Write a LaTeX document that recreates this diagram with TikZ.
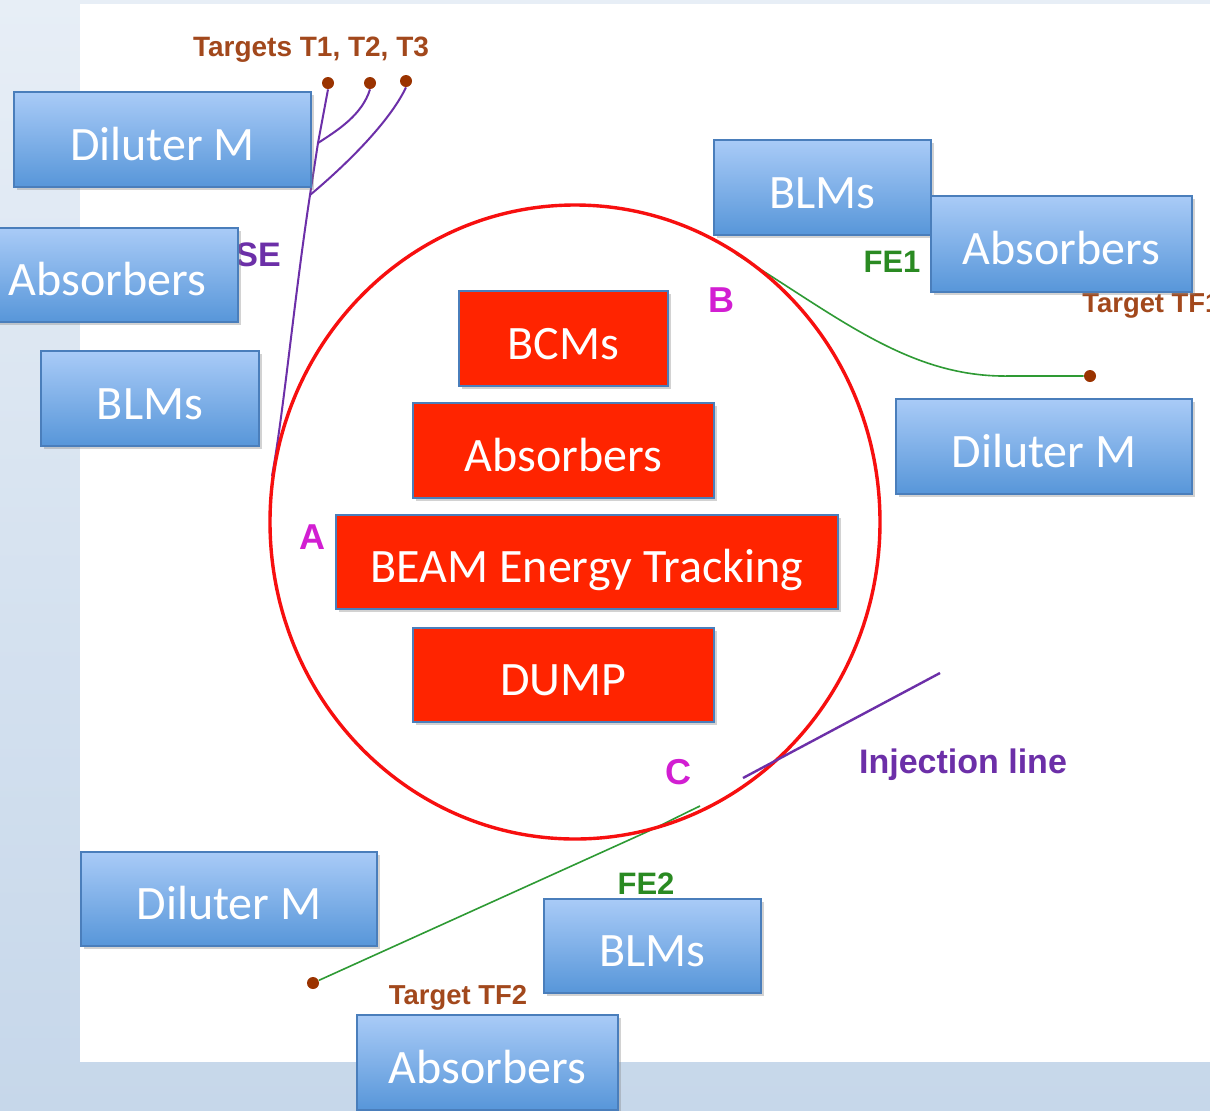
\documentclass[tikz,border=0pt]{standalone}
\usepackage{fontspec}
\newfontfamily\carlito{Carlito}
\newfontfamily\lsans{Liberation Sans}
\usetikzlibrary{shadows}
\definecolor{boxborder}{HTML}{4A7EBB}
\definecolor{boxtop}{HTML}{A9CBF7}
\definecolor{boxbot}{HTML}{5796D9}
\definecolor{redfill}{HTML}{FF2400}
\definecolor{ringred}{HTML}{F70F0F}
\definecolor{brownlbl}{HTML}{A2481C}
\definecolor{dotbrown}{HTML}{9A3300}
\definecolor{purp}{HTML}{6C2FA8}
\definecolor{greenl}{HTML}{2E9A34}
\definecolor{greent}{HTML}{2A8A22}
\definecolor{magl}{HTML}{D21ED2}
\definecolor{bgtop}{HTML}{E7EEF6}
\definecolor{bgbot}{HTML}{C6D7EA}
\tikzset{
  bigtext/.style={font=\carlito\fontsize{24}{28}\selectfont, text height=20.5pt, text depth=0pt},
  bluebox/.style={rectangle, draw=boxborder, line width=0.6pt, top color=boxtop, bottom color=boxbot,
    text=white, bigtext, inner sep=0pt,
    drop shadow={opacity=0.35, shadow xshift=1.5pt, shadow yshift=-1.5pt}},
  redbox/.style={rectangle, draw=boxborder, line width=0.6pt, fill=redfill,
    text=white, bigtext, inner sep=0pt,
    drop shadow={opacity=0.35, shadow xshift=1.5pt, shadow yshift=-1.5pt}},
  lbl/.style={font=\lsans\bfseries\fontsize{#1}{#1}\selectfont, inner sep=0pt},
  tdot/.style={circle, fill=dotbrown, inner sep=0pt, minimum size=6pt},
  purpline/.style={draw=purp, line width=1pt},
  greenline/.style={draw=greenl, line width=0.8pt},
}
\begin{document}
\begin{tikzpicture}[x=0.5pt, y=-0.5pt]
\useasboundingbox (0,0) rectangle (1210,1110);
\clip (0,0) rectangle (1210,1110);
% background
\shade[top color=bgtop, bottom color=bgbot] (0,0) rectangle (1210,1110);
\fill[white] (80,4) rectangle (1210,1062);

% target dots
\node[tdot] (t1) at (328,83) {};
\node[tdot] (t2) at (370,83) {};
\node[tdot] (t3) at (406,81) {};
\node[tdot] (tf1) at (1090,376) {};
\node[tdot] (tf2) at (313,983) {};

% junctions and line ends
\coordinate (j1) at (318,143);
\coordinate (j2) at (310,195);
\coordinate (trunkend) at (272,476);
\coordinate (fe1start) at (736,254);
\coordinate (fe2start) at (700,806);
\coordinate (fe2bend) at (640,835);
\coordinate (injA) at (743,778);
\coordinate (injB) at (940,673);

% purple extraction lines
\draw[purpline] (t1.south) -- (j1) -- (j2) .. controls (294,300) and (284,410) .. (trunkend);
\draw[purpline] (t2.south) .. controls (362,115) and (338,130) .. (j1);
\draw[purpline] (t3.south) .. controls (388,125) and (340,170) .. (j2);

% green lines
\draw[greenline] (fe1start) .. controls (840,318) and (910,378) .. (1010,376) -- (tf1);
\draw[greenline] (fe2start) .. controls (675,818) and (660,826) .. (fe2bend) -- (tf2);

% ring
\draw[ringred, line width=1.7pt] (575,522) ellipse [x radius=305, y radius=317];

% injection line
\draw[purp, line width=1.2pt] (injA) -- (injB);

% labels
\node[lbl=14, text=brownlbl] (ltargets) at (311,50) {Targets T1, T2, T3};
\node[lbl=17, text=purp] (lse) at (258,255) {SE};
\node[lbl=15.5, text=greent] (lfe1) at (892,262) {FE1};
\node[lbl=15.5, text=greent] (lfe2) at (646,884) {FE2};
\node[lbl=18, text=magl] (la) at (312,537) {A};
\node[lbl=18, text=magl] (lb) at (721,300) {B};
\node[lbl=18, text=magl] (lc) at (678,772) {C};
\node[lbl=13.7, text=brownlbl, anchor=west] (ltf1) at (1082,306) {Target TF1};
\node[lbl=13.7, text=brownlbl] (ltf2) at (458,998) {Target TF2};
\node[lbl=17, text=purp] (linj) at (963,765) {Injection line};

% blue boxes
\node[bluebox, minimum width=148.5pt, minimum height=47.5pt] (dilA) at (162.5,139.5) {Diluter M};
\node[bluebox, minimum width=108.5pt, minimum height=47.5pt] (blmsTR) at (822.5,187.5) {BLMs};
\node[bluebox, minimum width=130.5pt, minimum height=48pt] (absR) at (1061.5,244) {Absorbers};
\node[bluebox, minimum width=130.5pt, minimum height=47pt] (absL) at (107.5,275) {Absorbers};
\node[bluebox, minimum width=109pt, minimum height=47.5pt] (blmsL) at (150,398.5) {BLMs};
\node[bluebox, minimum width=148pt, minimum height=47.5pt] (dilR) at (1044,446.5) {Diluter M};
\node[bluebox, minimum width=148pt, minimum height=47pt] (dilBL) at (229,899) {Diluter M};
\node[bluebox, minimum width=108.5pt, minimum height=47pt] (blmsB) at (652.5,946) {BLMs};
\node[bluebox, minimum width=130.5pt, minimum height=47.5pt] (absB) at (487.5,1062.5) {Absorbers};

% red boxes
\node[redbox, minimum width=104.5pt, minimum height=47.5pt] (bcms) at (563.5,338.5) {BCMs};
\node[redbox, minimum width=150.5pt, minimum height=47.5pt] (absC) at (563.5,450.5) {Absorbers};
\node[redbox, minimum width=251pt, minimum height=47pt] (beam) at (587,562) {BEAM Energy Tracking};
\node[redbox, minimum width=150.5pt, minimum height=47pt] (dump) at (563.5,675) {DUMP};
\end{tikzpicture}
\end{document}
